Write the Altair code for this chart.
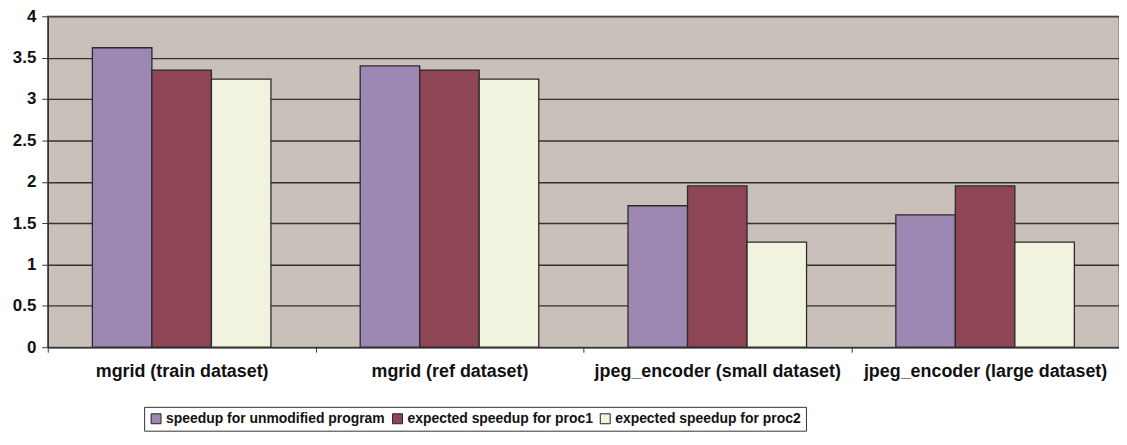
import altair as alt
import pandas as pd

categories = ["mgrid (train dataset)", "mgrid (ref dataset)",
              "jpeg_encoder (small dataset)", "jpeg_encoder (large dataset)"]
series = ["speedup for unmodified program", "expected speedup for proc1",
          "expected speedup for proc2"]
unmodified = [3.62, 3.40, 1.71, 1.60]
proc1 = [3.35, 3.35, 1.95, 1.95]
proc2 = [3.24, 3.24, 1.27, 1.27]
colors = ["#9D88B4", "#8E4555", "#F1F3DE"]
yticks = [0, 0.5, 1, 1.5, 2, 2.5, 3, 3.5, 4]

rows = []
for i, c in enumerate(categories):
    for s, vals in zip(series, [unmodified, proc1, proc2]):
        rows.append({"category": c, "series": s, "value": vals[i]})
df = pd.DataFrame(rows)

font = "Liberation Sans"

chart = alt.Chart(df).mark_bar(stroke="#2b2b2b", strokeWidth=1.3).encode(
    x=alt.X("category:N", sort=categories, title=None,
            scale=alt.Scale(paddingInner=0, paddingOuter=0),
            axis=alt.Axis(labelAngle=0, labelFont=font, labelFontWeight="bold",
                          labelFontSize=18, labelColor="#111", labelPadding=10,
                          labelLimit=0,
                          tickBand="extent", tickColor="#333", tickSize=5,
                          domainColor="#333", domainWidth=1.5, grid=False)),
    xOffset=alt.XOffset("series:N", sort=series,
                        scale=alt.Scale(paddingInner=0, paddingOuter=0.75)),
    y=alt.Y("value:Q", title=None,
            scale=alt.Scale(domain=[0, 4], nice=False),
            axis=alt.Axis(values=yticks, labelExpr="datum.value",
                          labelFont=font, labelFontWeight="bold", labelFontSize=17,
                          labelColor="#111", labelPadding=6, tickSize=6,
                          tickColor="#333", domainColor="#333", domainWidth=1.5,
                          gridColor="#333", gridWidth=1.3, gridOpacity=1)),
    color=alt.Color("series:N", sort=series,
                    scale=alt.Scale(domain=series, range=colors),
                    legend=alt.Legend(title=None, orient="none", direction="horizontal",
                                      legendX=97, legendY=393,
                                      symbolType="square", symbolSize=100,
                                      symbolStrokeColor="#222", symbolStrokeWidth=1,
                                      labelFont=font, labelFontWeight="bold",
                                      labelFontSize=14, labelColor="#111",
                                      labelLimit=0,
                                      labelOffset=3, columnPadding=5,
                                      strokeColor="#333", padding=5,
                                      fillColor="#ffffff", symbolOpacity=1)),
).properties(
    width=1078, height=333,
    background="#ffffff",
    padding={"left": 40, "top": 7, "right": 0, "bottom": 90},
    autosize=alt.AutoSizeParams(type="none"),
).configure_view(fill="#C9C0BA", stroke="#888", strokeWidth=1.5)

chart.save("out.html", embed_options={"renderer": "svg", "actions": False})
